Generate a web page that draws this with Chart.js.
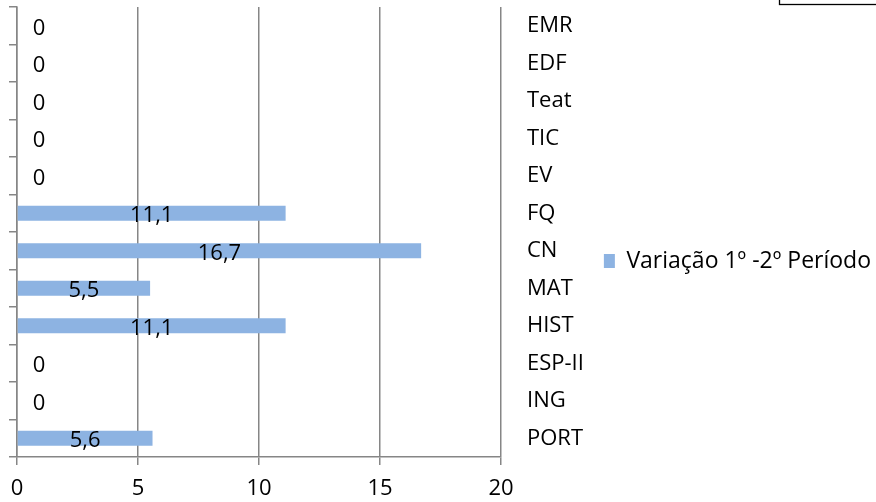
<!DOCTYPE html>
<html>
<head>
<meta charset="utf-8">
<script src="https://cdn.jsdelivr.net/npm/chart.js@4.4.1/dist/chart.umd.min.js"></script>
<style>
html,body{margin:0;padding:0;background:#fff;}
#wrap{width:876px;height:502px;position:relative;}
</style>
</head>
<body>
<div id="wrap"><canvas id="c"></canvas></div>
<script>
const categories = ['EMR','EDF','Teat','TIC','EV','FQ','CN','MAT','HIST','ESP-II','ING','PORT'];
const seriesName = 'Variação 1º -2º Período';
const variacao = [0,0,0,0,0,11.1,16.7,5.5,11.1,0,0,5.6];
const xTicks = [0,5,10,15,20];

const FONT = '"Open Sans", Lato, sans-serif';
const GRID = '#868686';
const BAR = '#8DB3E2';
const PAD_RIGHT = -5;

const labelPlugin = {
  id: 'barLabels',
  afterDatasetsDraw(chart) {
    const ctx = chart.ctx;
    const meta = chart.getDatasetMeta(0);
    ctx.save();
    ctx.font = '22px ' + FONT;
    ctx.fillStyle = '#000';
    ctx.textAlign = 'center';
    ctx.textBaseline = 'middle';
    meta.data.forEach((el, i) => {
      const v = chart.data.datasets[0].data[i];
      const txt = v === 0 ? '0' : String(v).replace('.', ',');
      const x = v === 0 ? el.base + 22 : (el.x + el.base) / 2;
      ctx.fillText(txt, x, el.y + 2.5);
    });
    ctx.restore();
  }
};

const boxPlugin = {
  id: 'cornerBox',
  afterDraw(chart) {
    const ctx = chart.ctx;
    ctx.save();
    ctx.strokeStyle = '#000';
    ctx.lineWidth = 1.3;
    ctx.strokeRect(779.5, -10, 200, 14.5);
    ctx.restore();
  }
};

new Chart(document.getElementById('c'), {
  type: 'bar',
  data: {
    labels: categories,
    datasets: [{
      label: seriesName,
      data: variacao,
      backgroundColor: BAR,
      borderWidth: 0,
      barPercentage: 0.4,
      categoryPercentage: 1,
      yAxisID: 'y'
    }]
  },
  options: {
    indexAxis: 'y',
    responsive: true,
    maintainAspectRatio: false,
    animation: false,
    layout: { padding: { top: 7, left: 9, right: PAD_RIGHT, bottom: -9.5 } },
    plugins: {
      tooltip: { enabled: false },
      legend: {
        position: 'right',
        maxWidth: 340,
        title: { display: true, text: '', font: { size: 1 }, padding: { top: 2.3, bottom: 0 } },
        labels: {
          boxWidth: 11,
          boxHeight: 14,
          padding: 10,
          color: '#000',
          font: { family: FONT, size: 23 }
        }
      }
    },
    scales: {
      x: {
        type: 'linear',
        min: 0,
        max: 20,
        afterBuildTicks(scale) { scale.ticks = xTicks.map(v => ({ value: v })); },
        grid: { color: GRID, lineWidth: 1.5, drawTicks: true, tickLength: 8, tickColor: GRID },
        border: { display: true, color: GRID, width: 1.5 },
        ticks: { color: '#000', padding: 10, font: { family: FONT, size: 22 } }
      },
      yL: {
        type: 'category',
        position: 'left',
        offset: true,
        grid: { offset: true, drawOnChartArea: false, drawTicks: true, tickLength: 8, lineWidth: 1.5, color: GRID, tickColor: GRID },
        border: { display: true, color: GRID, width: 1.5 },
        ticks: { display: false }
      },
      y: {
        type: 'category',
        position: 'right',
        offset: true,
        grid: { display: false, drawTicks: true, tickLength: 26 },
        border: { display: false },
        ticks: { color: '#000', padding: 0, font: { family: FONT, size: 22, lineHeight: 0.5 } },
        afterFit(scale) {
          const lg = scale.chart.legend;
          const lw = lg && lg.width ? lg.width : 284;
          scale.width = Math.max(10, 876 - PAD_RIGHT - lw - 501);
        }
      }
    }
  },
  plugins: [labelPlugin, boxPlugin]
});
</script>
</body>
</html>
